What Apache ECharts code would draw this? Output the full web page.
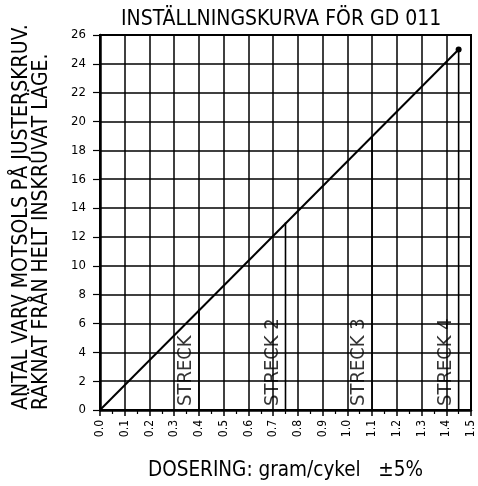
<!DOCTYPE html>
<html>
<head>
<meta charset="utf-8">
<script src="https://cdn.jsdelivr.net/npm/echarts@6/dist/echarts.min.js"></script>
<style>
  html, body { margin: 0; padding: 0; background: #fff; }
  #main { width: 478px; height: 486px; }
</style>
</head>
<body>
<div id="main"></div>
<script>
var FONT = '"DejaVu Sans Condensed", "DejaVu Sans", sans-serif';

// kurvan: dosering (gram/cykel) -> antal varv
var curveX = [0, 1.45];
var curveY = [0, 25];

// streck-markeringar
var streckNames = ['STRECK', 'STRECK 2', 'STRECK 3', 'STRECK 4'];
var streckX = [0.4, 0.75, 1.1, 1.45];
var streckY = [7, 13, 19, 25];

var yTitle1 = 'ANTAL VARV MOTSOLS PÅ JUSTERSKRUV.';
var yTitle2 = 'RÄKNAT FRÅN HELT INSKRUVAT LÄGE.';

var chartDom = document.getElementById('main');
var myChart = echarts.init(chartDom);

var curveData = curveX.map(function (x, i) { return [x, curveY[i]]; });

var dropSeries = streckX.map(function (x, i) {
  return {
    type: 'line',
    data: [[x, 0], [x, streckY[i]]],
    symbol: 'none',
    lineStyle: { color: '#000', width: 1.6 },
    z: 3,
    silent: true
  };
});

var option = {
  animation: false,
  title: {
    text: 'INSTÄLLNINGSKURVA FÖR GD 011',
    left: 116,
    top: 4,
    textStyle: { fontFamily: FONT, fontSize: 21, fontWeight: 'normal', color: '#000' }
  },
  grid: {
    left: 100, right: 7, top: 35, bottom: 74,
    show: true, borderColor: '#000', borderWidth: 2
  },
  xAxis: {
    type: 'value',
    min: 0, max: 1.5, interval: 0.1,
    name: 'DOSERING: gram/cykel   ±5%',
    nameLocation: 'middle',
    nameGap: 50,
    nameTextStyle: { fontFamily: FONT, fontSize: 20.5, color: '#000' },
    axisLine: { lineStyle: { color: '#000', width: 2.5 } },
    axisTick: { inside: false, length: 6, lineStyle: { color: '#000', width: 1.5 } },
    minorTick: { show: true, splitNumber: 2, length: 4, lineStyle: { color: '#000', width: 1.2 } },
    axisLabel: {
      rotate: 90, margin: 10, fontFamily: FONT, fontSize: 12, color: '#000',
      formatter: function (v) { return v.toFixed(1); }
    },
    splitLine: { show: true, lineStyle: { color: '#000', width: 1.5 } }
  },
  yAxis: {
    type: 'value',
    min: 0, max: 26, interval: 2,
    axisLine: { show: true, lineStyle: { color: '#000', width: 2.5 } },
    axisTick: { show: true, inside: false, length: 7, lineStyle: { color: '#000', width: 1.2 } },
    axisLabel: { margin: 14, fontFamily: FONT, fontSize: 13, color: '#000' },
    splitLine: { show: true, lineStyle: { color: '#000', width: 1.5 } }
  },
  graphic: [
    {
      type: 'text', x: 22, y: 410, rotation: Math.PI / 2,
      style: { text: yTitle1, font: '21px ' + FONT, fill: '#000', textAlign: 'left', textVerticalAlign: 'middle' }
    },
    {
      type: 'text', x: 42, y: 410, rotation: Math.PI / 2,
      style: { text: yTitle2, font: '21px ' + FONT, fill: '#000', textAlign: 'left', textVerticalAlign: 'middle' }
    }
  ],
  series: [
    {
      type: 'line',
      data: curveData,
      symbol: 'circle',
      symbolSize: function (val, p) { return p.dataIndex === curveData.length - 1 ? 6 : 0; },
      itemStyle: { color: '#000' },
      lineStyle: { color: '#000', width: 2 },
      z: 4
    },
    {
      type: 'scatter',
      data: streckX.map(function (x, i) { return { value: [x, 0], name: streckNames[i] }; }),
      symbolSize: 0,
      label: {
        show: true,
        formatter: '{b}',
        position: [-3, -4],
        rotate: 90,
        align: 'left',
        verticalAlign: 'bottom',
        fontFamily: FONT,
        fontSize: 20,
        color: '#000'
      },
      z: 5,
      silent: true
    }
  ].concat(dropSeries)
};

myChart.setOption(option);
</script>
</body>
</html>
